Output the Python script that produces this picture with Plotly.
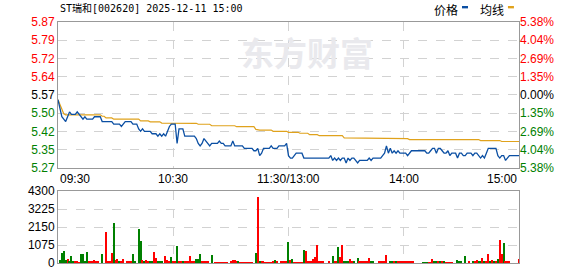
import plotly.graph_objects as go

title_text = "ST瑞和[002620] 2025-12-11 15:00"
pre_close = 5.57

price = [
    5.55, 5.52, 5.48, 5.47, 5.46, 5.48, 5.50, 5.49, 5.49, 5.49,
    5.50, 5.49, 5.48, 5.47, 5.48, 5.47, 5.47, 5.47, 5.47, 5.48,
    5.48, 5.48, 5.48, 5.46, 5.46, 5.46, 5.46, 5.46, 5.46, 5.45,
    5.45, 5.45, 5.45, 5.44, 5.45, 5.46, 5.46, 5.46, 5.46, 5.45,
    5.45, 5.45, 5.43, 5.42, 5.43, 5.42, 5.42, 5.42, 5.42, 5.41,
    5.41, 5.41, 5.40, 5.41, 5.40, 5.41, 5.40, 5.42, 5.44, 5.45,
    5.45, 5.45, 5.37, 5.43, 5.43, 5.43, 5.40, 5.40, 5.40, 5.40,
    5.40, 5.40, 5.39, 5.37, 5.36, 5.37, 5.39, 5.38, 5.37, 5.36,
    5.37, 5.37, 5.37, 5.37, 5.38, 5.37, 5.37, 5.36, 5.36, 5.36,
    5.36, 5.38, 5.36, 5.36, 5.36, 5.36, 5.36, 5.35, 5.35, 5.35,
    5.35, 5.35, 5.34, 5.34, 5.35, 5.32, 5.33, 5.35, 5.35, 5.35,
    5.35, 5.36, 5.35, 5.35, 5.35, 5.36, 5.36, 5.36, 5.36, 5.37,
    5.32, 5.31, 5.31, 5.32, 5.33, 5.33, 5.33, 5.33, 5.31, 5.31,
    5.31, 5.31, 5.31, 5.31, 5.31, 5.31, 5.31, 5.31, 5.31, 5.31,
    5.31, 5.31, 5.32, 5.30, 5.31, 5.30, 5.31, 5.30, 5.31, 5.31,
    5.29, 5.31, 5.30, 5.31, 5.31, 5.30, 5.29, 5.30, 5.30, 5.30,
    5.30, 5.30, 5.31, 5.30, 5.31, 5.31, 5.31, 5.31, 5.31, 5.32,
    5.33, 5.36, 5.33, 5.35, 5.33, 5.34, 5.33, 5.34, 5.33, 5.33,
    5.33, 5.33, 5.32, 5.33, 5.34, 5.34, 5.34, 5.34, 5.34, 5.34,
    5.34, 5.34, 5.33, 5.33, 5.34, 5.35, 5.35, 5.33, 5.35, 5.35,
    5.34, 5.33, 5.33, 5.34, 5.32, 5.33, 5.33, 5.33, 5.31, 5.33,
    5.33, 5.32, 5.32, 5.33, 5.33, 5.33, 5.32, 5.33, 5.33, 5.32,
    5.31, 5.32, 5.31, 5.33, 5.35, 5.35, 5.35, 5.35, 5.35, 5.32,
    5.31, 5.32, 5.32, 5.30, 5.31, 5.32, 5.32, 5.32, 5.32, 5.32,
    5.32,
]

avg_price = [
    5.550, 5.530, 5.505, 5.492, 5.488, 5.488, 5.488, 5.488, 5.488, 5.488,
    5.488, 5.488, 5.488, 5.488, 5.488, 5.488, 5.488, 5.488, 5.488, 5.488,
    5.488, 5.488, 5.488, 5.482, 5.482, 5.475, 5.475, 5.475, 5.475, 5.470,
    5.470, 5.470, 5.470, 5.470, 5.470, 5.470, 5.470, 5.470, 5.470, 5.470,
    5.470, 5.470, 5.470, 5.463, 5.463, 5.463, 5.463, 5.463, 5.459, 5.459,
    5.459, 5.459, 5.459, 5.459, 5.454, 5.454, 5.454, 5.454, 5.454, 5.454,
    5.454, 5.454, 5.453, 5.453, 5.453, 5.453, 5.453, 5.453, 5.453, 5.453,
    5.453, 5.453, 5.453, 5.449, 5.449, 5.449, 5.449, 5.449, 5.449, 5.449,
    5.443, 5.443, 5.443, 5.443, 5.443, 5.443, 5.443, 5.443, 5.443, 5.443,
    5.443, 5.443, 5.443, 5.439, 5.439, 5.439, 5.439, 5.439, 5.439, 5.439,
    5.439, 5.439, 5.439, 5.428, 5.425, 5.425, 5.425, 5.425, 5.425, 5.425,
    5.425, 5.425, 5.420, 5.420, 5.420, 5.420, 5.420, 5.420, 5.420, 5.420,
    5.416, 5.416, 5.416, 5.416, 5.416, 5.416, 5.412, 5.412, 5.412, 5.412,
    5.412, 5.406, 5.406, 5.406, 5.406, 5.406, 5.402, 5.402, 5.402, 5.402,
    5.402, 5.402, 5.402, 5.402, 5.402, 5.402, 5.402, 5.402, 5.402, 5.393,
    5.393, 5.393, 5.393, 5.390, 5.390, 5.390, 5.390, 5.390, 5.390, 5.390,
    5.390, 5.390, 5.390, 5.390, 5.390, 5.390, 5.390, 5.390, 5.390, 5.390,
    5.390, 5.390, 5.390, 5.390, 5.390, 5.390, 5.390, 5.390, 5.390, 5.390,
    5.390, 5.390, 5.390, 5.386, 5.386, 5.386, 5.386, 5.386, 5.386, 5.386,
    5.386, 5.386, 5.386, 5.386, 5.386, 5.386, 5.386, 5.386, 5.386, 5.386,
    5.386, 5.386, 5.386, 5.386, 5.386, 5.386, 5.386, 5.386, 5.386, 5.386,
    5.386, 5.386, 5.386, 5.386, 5.386, 5.386, 5.386, 5.386, 5.386, 5.386,
    5.382, 5.382, 5.382, 5.382, 5.382, 5.382, 5.382, 5.382, 5.382, 5.382,
    5.382, 5.378, 5.378, 5.378, 5.378, 5.378, 5.378, 5.378, 5.378, 5.378,
    5.378,
]

volume = [
    0, 175, 580, 735, 175, 230, 60, 410, 60, 60,
    135, 40, 525, 525, 60, 640, 60, 60, 60, 155,
    60, 60, 0, 525, 0, 1860, 60, 100, 580, 2380,
    195, 230, 135, 60, 230, 0, 60, 60, 60, 525,
    60, 0, 2035, 1340, 195, 60, 155, 100, 60, 60,
    640, 290, 135, 60, 100, 0, 410, 195, 60, 350,
    60, 60, 990, 60, 100, 60, 60, 60, 60, 410,
    60, 60, 230, 230, 525, 60, 60, 60, 60, 0,
    465, 0, 40, 40, 40, 40, 40, 40, 40, 0,
    100, 155, 195, 60, 60, 40, 40, 40, 40, 40,
    40, 40, 0, 580, 3930, 100, 100, 60, 40, 40,
    40, 40, 100, 175, 60, 0, 60, 60, 60, 60,
    1280, 155, 210, 40, 40, 40, 40, 40, 755, 700,
    60, 60, 135, 230, 350, 1045, 60, 60, 60, 0,
    0, 60, 0, 410, 60, 60, 930, 350, 1100, 60,
    60, 60, 230, 60, 60, 0, 290, 60, 60, 60,
    60, 60, 290, 60, 60, 0, 0, 60, 60, 60,
    135, 465, 0, 60, 60, 60, 60, 60, 60, 60,
    60, 60, 60, 60, 60, 60, 0, 0, 0, 0,
    40, 40, 40, 40, 40, 230, 60, 60, 60, 60,
    60, 135, 40, 40, 40, 40, 0, 0, 175, 60,
    60, 0, 410, 0, 60, 0, 60, 60, 175, 100,
    60, 290, 60, 100, 525, 60, 175, 60, 60, 230,
    1395, 525, 1220, 60, 60, 60, 0, 0, 0, 0,
    230,
]

# 1 = up (red), -1 = down (green)
direction = [
    1, -1, -1, -1, -1, 1, -1, -1, -1, 1,
    1, 1, -1, -1, -1, -1, 1, 1, 1, 1,
    1, 1, 1, -1, 1, 1, 1, 1, 1, -1,
    1, 1, -1, 1, 1, 1, 1, 1, 1, -1,
    -1, 1, -1, -1, 1, -1, 1, 1, -1, -1,
    1, 1, -1, -1, -1, 1, 1, 1, 1, -1,
    1, 1, -1, 1, 1, -1, 1, 1, 1, 1,
    1, 1, -1, -1, -1, 1, 1, 1, 1, 1,
    -1, 1, 1, 1, 1, 1, 1, 1, 1, 1,
    1, 1, 1, 1, -1, 1, 1, 1, 1, 1,
    1, 1, 1, -1, 1, -1, 1, 1, 1, 1,
    1, 1, 1, -1, 1, 1, 1, 1, 1, 1,
    -1, 1, -1, 1, 1, 1, 1, 1, -1, 1,
    1, 1, 1, 1, 1, 1, 1, 1, 1, 1,
    1, 1, 1, -1, 1, 1, -1, 1, 1, -1,
    -1, -1, 1, 1, -1, 1, -1, 1, 1, 1,
    1, 1, 1, -1, -1, 1, 1, 1, 1, 1,
    1, 1, 1, -1, -1, 1, -1, 1, 1, 1,
    1, 1, 1, 1, 1, 1, 1, 1, 1, 1,
    -1, -1, -1, 1, 1, 1, -1, -1, 1, -1,
    1, -1, 1, 1, 1, 1, 1, 1, -1, -1,
    -1, 1, -1, 1, 1, 1, -1, 1, 1, -1,
    -1, 1, -1, 1, 1, -1, 1, -1, 1, -1,
    1, 1, -1, 1, 1, 1, 1, 1, 1, 1,
    1,
]

price_tick_vals = [5.87, 5.795, 5.72, 5.645, 5.57, 5.495, 5.42, 5.345, 5.27]
price_tick_text = ["5.87", "5.79", "5.72", "5.64", "5.57", "5.50", "5.42", "5.35", "5.27"]
pct_tick_text = ["5.38%", "4.04%", "2.69%", "1.35%", "0.00%", "1.35%", "2.69%", "4.04%", "5.38%"]
vol_tick_vals = [0, 1075, 2150, 3225, 4300]
vol_tick_text = ["0", "1075", "2150", "3225", "4300"]
time_tick_vals = [0, 60, 120, 180, 240]
time_tick_text = ["09:30", "10:30", "11:30/13:00", "14:00", "15:00"]
legend_names = ["价格", "均线"]

RED = "#ff0000"
GREEN = "#008000"
BLUE = "#0b4fa3"
ORANGE = "#e0a21c"
GRID = "#d2d2d2"
FRAME = "#999999"

minutes = list(range(len(price)))


def tick_color(v):
    if v > pre_close + 1e-9:
        return RED
    if v < pre_close - 1e-9:
        return GREEN
    return "#000000"


left_text = [f"<span style='color:{tick_color(v)}'>{t}</span>"
             for v, t in zip(price_tick_vals, price_tick_text)]
right_text = [f"<span style='color:{tick_color(v)}'>{t}</span>"
              for v, t in zip(price_tick_vals, pct_tick_text)]
bar_colors = [RED if d > 0 else GREEN for d in direction]

fig = go.Figure()
fig.add_trace(go.Scatter(x=minutes, y=avg_price, mode="lines", name=legend_names[1],
                         line=dict(color=ORANGE, width=1.2), xaxis="x", yaxis="y",
                         hoverinfo="skip"))
fig.add_trace(go.Scatter(x=minutes, y=price, mode="lines", name=legend_names[0],
                         line=dict(color=BLUE, width=1.3), xaxis="x", yaxis="y",
                         hoverinfo="skip"))
fig.add_trace(go.Scatter(x=minutes, y=price, mode="lines", showlegend=False,
                         line=dict(color="rgba(0,0,0,0)", width=0), xaxis="x", yaxis="y2",
                         hoverinfo="skip"))
fig.add_trace(go.Bar(x=minutes, y=volume, marker=dict(color=bar_colors, line=dict(width=0)),
                     width=0.6, xaxis="x2", yaxis="y3", showlegend=False, hoverinfo="skip"))

axis_common = dict(showline=True, mirror=True, linecolor=FRAME, linewidth=1,
                   zeroline=False, gridcolor=GRID, griddash="dash", gridwidth=1)

fig.update_layout(
    width=578, height=276,
    margin=dict(l=58, r=59, t=22, b=6),
    paper_bgcolor="white", plot_bgcolor="white",
    showlegend=False,
    font=dict(family="Liberation Sans, Arial, sans-serif", size=12, color="#000"),
    bargap=0,
    xaxis=dict(domain=[0, 1], anchor="y", range=[0, 240], tickvals=time_tick_vals[1:-1],
               showticklabels=False, ticks="", **axis_common),
    yaxis=dict(domain=[0.3952, 1], anchor="x", range=[5.27, 5.87],
               tickvals=price_tick_vals, ticktext=left_text, ticks="",
               tickfont=dict(size=12), **axis_common),
    yaxis2=dict(overlaying="y", side="right", anchor="x", range=[5.27, 5.87],
                tickvals=price_tick_vals, ticktext=right_text, ticks="",
                showgrid=False, showline=False, zeroline=False, tickfont=dict(size=12)),
    xaxis2=dict(domain=[0, 1], anchor="y3", range=[0, 240], tickvals=time_tick_vals[1:-1],
                showticklabels=False, ticks="", **axis_common),
    yaxis3=dict(domain=[0, 0.2984], anchor="x2", range=[0, 4300],
                tickvals=vol_tick_vals, ticktext=vol_tick_text, ticks="",
                tickfont=dict(size=12), **axis_common),
)

annotations = []
# time labels
for i, (v, t) in enumerate(zip(time_tick_vals, time_tick_text)):
    anchor = "left" if i == 0 else ("right" if i == len(time_tick_vals) - 1 else "center")
    annotations.append(dict(x=v, xref="x", y=0.3952, yref="paper", yshift=-11,
                            text=t, showarrow=False, xanchor=anchor, yanchor="middle",
                            font=dict(size=12, color="#000")))
# title
annotations.append(dict(x=0, xref="paper", y=1.054, yref="paper", text=title_text,
                        showarrow=False, xanchor="left", yanchor="middle",
                        font=dict(family="DejaVu Sans Mono, Noto Sans CJK SC", size=10, color="#000")))
# legend
annotations.append(dict(x=0.8113, xref="paper", y=1.052, yref="paper", text=legend_names[0],
                        showarrow=False, xanchor="left", yanchor="middle",
                        font=dict(family="Noto Sans CJK SC", size=12, color="#000")))
annotations.append(dict(x=0.911, xref="paper", y=1.052, yref="paper", text=legend_names[1],
                        showarrow=False, xanchor="left", yanchor="middle",
                        font=dict(family="Noto Sans CJK SC", size=12, color="#000")))
# watermark
annotations.append(dict(x=0.54, xref="paper", y=0.875, yref="paper", text="<b>东方财富</b>",
                        showarrow=False, xanchor="center", yanchor="middle",
                        font=dict(family="Noto Sans CJK SC", size=33, color="#e9e9ed")))

shapes = [
    dict(type="rect", xref="paper", yref="paper", x0=0.8764, x1=0.8894, y0=1.0565, y1=1.0665,
         fillcolor=BLUE, line=dict(width=0)),
    dict(type="rect", xref="paper", yref="paper", x0=0.976, x1=0.989, y0=1.0565, y1=1.0665,
         fillcolor=ORANGE, line=dict(width=0)),
]

fig.update_layout(annotations=annotations, shapes=shapes)
fig.write_html("out.html")
